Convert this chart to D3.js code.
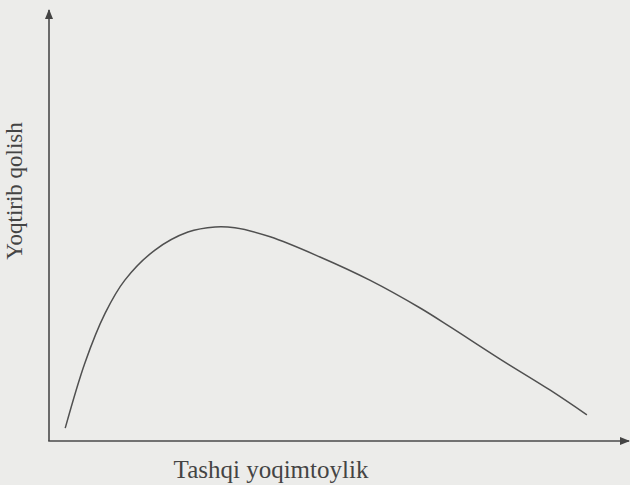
<!DOCTYPE html>
<html>
<head>
<meta charset="utf-8">
<script src="https://cdn.jsdelivr.net/npm/d3@7"></script>
<style>
  body { margin: 0; background: #ececea; }
  svg { display: block; }
  .axis-label { font-family: "Liberation Serif", "DejaVu Serif", serif; fill: #444; }
</style>
</head>
<body>
<script>
(function(){

  //curve points (arbitrary units 0-10)
  var curveX = [0.28, 0.62, 0.97, 1.31, 1.83, 2.40, 2.87, 3.21, 3.82, 4.68, 5.54, 6.41, 6.93, 7.79, 8.65, 9.29];
  var curveY = [0.30, 1.82, 2.98, 3.75, 4.45, 4.87, 4.99, 4.97, 4.76, 4.29, 3.75, 3.10, 2.66, 1.91, 1.19, 0.61];

  var xTitle = "Tashqi yoqimtoylik";
  var yTitle = "Yoqtirib qolish";

  var width = 630,
      height = 485;

  var svg = d3.select("body")
    .append("svg")
    .attr("width", width)
    .attr("height", height);

  //faint paper background
  svg.append("rect")
    .attr("width", width)
    .attr("height", height)
    .attr("fill", "#ececea");

  var x = d3.scaleLinear().domain([0, 10]).range([49, 628]);
  var y = d3.scaleLinear().domain([0, 10]).range([441, 12]);

  //arrow marker
  svg.append("defs").append("marker")
    .attr("id", "arrow")
    .attr("viewBox", "0 0 10 10")
    .attr("refX", 9)
    .attr("refY", 5)
    .attr("markerWidth", 10)
    .attr("markerHeight", 10)
    .attr("markerUnits", "userSpaceOnUse")
    .attr("orient", "auto")
    .append("path")
    .attr("d", "M0,1 L10,5 L0,9 Z")
    .attr("fill", "#444");

  //y axis
  svg.append("line")
    .attr("x1", x(0)).attr("y1", y(0))
    .attr("x2", x(0)).attr("y2", y(10) - 2)
    .attr("stroke", "#4a4a4a")
    .attr("stroke-width", 1.6)
    .attr("marker-end", "url(#arrow)");

  //x axis
  svg.append("line")
    .attr("x1", x(0) - 0.8).attr("y1", y(0))
    .attr("x2", x(10) + 1).attr("y2", y(0))
    .attr("stroke", "#4a4a4a")
    .attr("stroke-width", 1.6)
    .attr("marker-end", "url(#arrow)");

  //the curve
  var pts = curveX.map(function(d, i){ return [d, curveY[i]]; });
  var line = d3.line()
    .x(function(d){ return x(d[0]); })
    .y(function(d){ return y(d[1]); })
    .curve(d3.curveCatmullRom.alpha(0.5));

  svg.append("path")
    .datum(pts)
    .attr("d", line)
    .attr("fill", "none")
    .attr("stroke", "#505050")
    .attr("stroke-width", 1.5);

  //axis titles
  svg.append("text")
    .attr("class", "axis-label")
    .attr("x", 271)
    .attr("y", 478)
    .attr("text-anchor", "middle")
    .style("font-size", "25px")
    .text(xTitle);

  svg.append("text")
    .attr("class", "axis-label")
    .attr("transform", "translate(22,191) rotate(-90)")
    .attr("text-anchor", "middle")
    .style("font-size", "23px")
    .text(yTitle);

})();
</script>
</body>
</html>
